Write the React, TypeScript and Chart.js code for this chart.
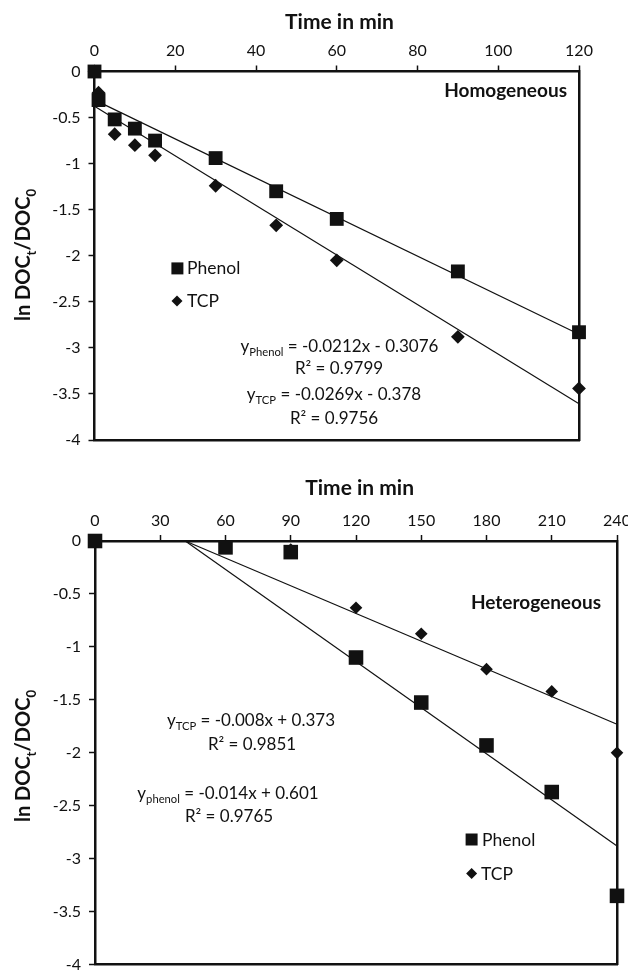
import React, { useEffect, useRef } from 'react';
import { Chart, registerables } from 'chart.js';

Chart.register(...registerables);

const FONT = 'Lato, "Open Sans", "DejaVu Sans", sans-serif';
const INK = '#111111';

// ---------- Homogeneous (top) ----------
const homoTime = [0, 1, 5, 10, 15, 30, 45, 60, 90, 120];
const homoPhenol = [0, -0.31, -0.52, -0.62, -0.75, -0.94, -1.3, -1.6, -2.17, -2.83];
const homoTcp = [0, -0.23, -0.68, -0.8, -0.91, -1.24, -1.67, -2.05, -2.88, -3.44];
const homoFitTime = [0, 120];
const homoPhenolSlope = -0.0212;
const homoPhenolIntercept = -0.3076;
const homoTcpSlope = -0.0269;
const homoTcpIntercept = -0.378;
const homoXTicks = [0, 20, 40, 60, 80, 100, 120];

// ---------- Heterogeneous (bottom) ----------
const heteroTime = [0, 60, 90, 120, 150, 180, 210, 240];
const heteroPhenol = [0, -0.06, -0.105, -1.1, -1.525, -1.93, -2.37, -3.35];
const heteroTcp = [0, -0.05, -0.08, -0.63, -0.875, -1.21, -1.42, -2.0];
const heteroFitTime = [41.5, 240];
const heteroPhenolFit = [0, -2.88];
const heteroTcpFit = [0, -1.73];
const heteroXTicks = [0, 30, 60, 90, 120, 150, 180, 210, 240];

const yTicks = [0, -0.5, -1, -1.5, -2, -2.5, -3, -3.5, -4];

type Part = [string, 'n' | 'sub'];
type TextItem = {
  parts: Part[];
  x: number;
  y: number;
  align: 'left' | 'center' | 'right';
  size: number;
  bold?: boolean;
  rotate?: boolean;
};
type Marker = { kind: 'square' | 'diamond'; x: number; y: number; s: number };

function fontStr(size: number, bold?: boolean) {
  return `${bold ? 'bold ' : ''}${size}px ${FONT}`;
}

function drawRich(ctx: CanvasRenderingContext2D, t: TextItem) {
  const subSize = t.size * 0.66;
  const widths = t.parts.map(([s, k]) => {
    ctx.font = fontStr(k === 'sub' ? subSize : t.size, t.bold);
    return ctx.measureText(s).width;
  });
  const total = widths.reduce((a, b) => a + b, 0);
  ctx.save();
  let x0 = 0;
  if (t.rotate) {
    ctx.translate(t.x, t.y);
    ctx.rotate(-Math.PI / 2);
    x0 = -total / 2;
  } else {
    ctx.translate(0, t.y);
    x0 = t.align === 'left' ? t.x : t.align === 'right' ? t.x - total : t.x - total / 2;
  }
  ctx.fillStyle = INK;
  ctx.textBaseline = 'alphabetic';
  ctx.textAlign = 'left';
  let x = x0;
  t.parts.forEach(([s, k], i) => {
    ctx.font = fontStr(k === 'sub' ? subSize : t.size, t.bold);
    ctx.fillText(s, x, k === 'sub' ? t.size * 0.28 : 0);
    x += widths[i];
  });
  ctx.restore();
}

function drawMarker(ctx: CanvasRenderingContext2D, m: Marker) {
  ctx.save();
  ctx.fillStyle = INK;
  ctx.beginPath();
  if (m.kind === 'square') {
    ctx.rect(m.x - m.s / 2, m.y - m.s / 2, m.s, m.s);
  } else {
    ctx.moveTo(m.x, m.y - m.s);
    ctx.lineTo(m.x + m.s, m.y);
    ctx.lineTo(m.x, m.y + m.s);
    ctx.lineTo(m.x - m.s, m.y);
    ctx.closePath();
  }
  ctx.fill();
  ctx.restore();
}

type Spec = {
  height: number;
  area: { left: number; top: number; right: number; bottom: number };
  xMax: number;
  xTicks: number[];
  time: number[];
  phenol: number[];
  tcp: number[];
  fitTime: number[];
  phenolFit: number[];
  tcpFit: number[];
  squareR: number;
  diamondR: number;
  texts: TextItem[];
  markers: Marker[];
};

function buildConfig(spec: Spec): any {
  const W = 628;
  const pts = (xs: number[], ys: number[]) => xs.map((x, i) => ({ x, y: ys[i] }));
  const annot = {
    id: 'annot',
    afterDraw(chart: any) {
      const ctx = chart.ctx as CanvasRenderingContext2D;
      spec.texts.forEach((t) => drawRich(ctx, t));
      spec.markers.forEach((m) => drawMarker(ctx, m));
    },
  };
  const tickFont = { family: FONT, size: 16 };
  return {
    type: 'scatter',
    data: {
      datasets: [
        {
          label: 'Phenol',
          data: pts(spec.time, spec.phenol),
          pointStyle: 'rect',
          pointRadius: spec.squareR,
          pointBorderWidth: 0,
          backgroundColor: INK,
          borderColor: INK,
          showLine: false,
          clip: false,
        },
        {
          label: 'TCP',
          data: pts(spec.time, spec.tcp),
          pointStyle: 'rectRot',
          pointRadius: spec.diamondR,
          pointBorderWidth: 0,
          backgroundColor: INK,
          borderColor: INK,
          showLine: false,
          clip: false,
        },
        {
          label: 'Phenol fit',
          data: pts(spec.fitTime, spec.phenolFit),
          showLine: true,
          pointRadius: 0,
          borderWidth: 1.2,
          borderColor: INK,
          clip: false,
        },
        {
          label: 'TCP fit',
          data: pts(spec.fitTime, spec.tcpFit),
          showLine: true,
          pointRadius: 0,
          borderWidth: 1.2,
          borderColor: INK,
          clip: false,
        },
      ],
    },
    options: {
      responsive: false,
      animation: false,
      events: [],
      layout: { padding: 0 },
      plugins: { legend: { display: false }, tooltip: { enabled: false }, title: { display: false } },
      scales: {
        x: {
          type: 'linear',
          position: 'top',
          min: 0,
          max: spec.xMax,
          afterBuildTicks: (s: any) => {
            s.ticks = spec.xTicks.map((v) => ({ value: v }));
          },
          ticks: { color: INK, font: tickFont, padding: 5, maxRotation: 0, autoSkip: false },
          grid: { drawOnChartArea: false, drawTicks: true, tickLength: 6, tickWidth: 1.5, tickColor: INK },
          border: { display: true, width: 2.5, color: INK },
          afterFit: (s: any) => {
            s.height = spec.area.top;
            s.paddingLeft = 0;
            s.paddingRight = 0;
          },
        },
        x2: {
          type: 'linear',
          position: 'bottom',
          min: 0,
          max: spec.xMax,
          ticks: { display: false },
          grid: { drawOnChartArea: false, drawTicks: false },
          border: { display: true, width: 2.5, color: INK },
          afterFit: (s: any) => {
            s.height = spec.height - spec.area.bottom;
            s.paddingLeft = 0;
            s.paddingRight = 0;
          },
        },
        y: {
          type: 'linear',
          position: 'left',
          min: -4,
          max: 0,
          afterBuildTicks: (s: any) => {
            s.ticks = yTicks.map((v) => ({ value: v }));
          },
          ticks: { color: INK, font: tickFont, padding: 8, callback: (v: any) => String(v) },
          grid: { drawOnChartArea: false, drawTicks: true, tickLength: 6, tickWidth: 1.5, tickColor: INK },
          border: { display: true, width: 2.5, color: INK },
          afterFit: (s: any) => {
            s.width = spec.area.left;
            s.paddingTop = 0;
            s.paddingBottom = 0;
          },
        },
        y2: {
          type: 'linear',
          position: 'right',
          min: -4,
          max: 0,
          ticks: { display: false },
          grid: { drawOnChartArea: false, drawTicks: false },
          border: { display: true, width: 2.5, color: INK },
          afterFit: (s: any) => {
            s.width = W - spec.area.right;
            s.paddingTop = 0;
            s.paddingBottom = 0;
          },
        },
      },
    },
    plugins: [annot],
  };
}

const yTitle: Part[] = [
  ['ln DOC', 'n'],
  ['t', 'sub'],
  ['/DOC', 'n'],
  ['0', 'sub'],
];

const topSpec: Spec = {
  height: 460,
  area: { left: 94.5, top: 71.5, right: 579, bottom: 440 },
  xMax: 120,
  xTicks: homoXTicks,
  time: homoTime,
  phenol: homoPhenol,
  tcp: homoTcp,
  fitTime: homoFitTime,
  phenolFit: homoFitTime.map((t) => homoPhenolSlope * t + homoPhenolIntercept),
  tcpFit: homoFitTime.map((t) => homoTcpSlope * t + homoTcpIntercept),
  squareR: 9.8,
  diamondR: 6.9,
  texts: [
    { parts: [['Time in min', 'n']], x: 339.5, y: 29, align: 'center', size: 21, bold: true },
    { parts: yTitle, x: 30, y: 255, align: 'center', size: 20, bold: true, rotate: true },
    { parts: [['Homogeneous', 'n']], x: 567, y: 97, align: 'right', size: 19, bold: true },
    { parts: [['Phenol', 'n']], x: 187, y: 274, align: 'left', size: 17.5 },
    { parts: [['TCP', 'n']], x: 187, y: 307, align: 'left', size: 17.5 },
    { parts: [['y', 'n'], ['Phenol', 'sub'], [' = -0.0212x - 0.3076', 'n']], x: 339.5, y: 351.5, align: 'center', size: 17 },
    { parts: [['R² = 0.9799', 'n']], x: 339, y: 373.5, align: 'center', size: 17 },
    { parts: [['y', 'n'], ['TCP', 'sub'], [' = -0.0269x - 0.378', 'n']], x: 334, y: 399.5, align: 'center', size: 17 },
    { parts: [['R² = 0.9756', 'n']], x: 334, y: 423.5, align: 'center', size: 17 },
  ],
  markers: [
    { kind: 'square', x: 177.4, y: 268.4, s: 12 },
    { kind: 'diamond', x: 177, y: 301, s: 5.5 },
  ],
};

const bottomSpec: Spec = {
  height: 515,
  area: { left: 95, top: 81, right: 617, bottom: 511 },
  xMax: 240,
  xTicks: heteroXTicks,
  time: heteroTime,
  phenol: heteroPhenol,
  tcp: heteroTcp,
  fitTime: heteroFitTime,
  phenolFit: heteroPhenolFit,
  tcpFit: heteroTcpFit,
  squareR: 10.3,
  diamondR: 6.3,
  texts: [
    { parts: [['Time in min', 'n']], x: 359.6, y: 35, align: 'center', size: 21, bold: true },
    { parts: yTitle, x: 30, y: 296, align: 'center', size: 20, bold: true, rotate: true },
    { parts: [['Heterogeneous', 'n']], x: 601, y: 149, align: 'right', size: 19, bold: true },
    { parts: [['y', 'n'], ['TCP', 'sub'], [' = -0.008x + 0.373', 'n']], x: 251, y: 265.5, align: 'center', size: 17 },
    { parts: [['R² = 0.9851', 'n']], x: 252, y: 289.5, align: 'center', size: 17 },
    { parts: [['y', 'n'], ['phenol', 'sub'], [' = -0.014x + 0.601', 'n']], x: 228, y: 338.5, align: 'center', size: 17 },
    { parts: [['R² = 0.9765', 'n']], x: 229, y: 362, align: 'center', size: 17 },
    { parts: [['Phenol', 'n']], x: 482, y: 385.5, align: 'left', size: 17.5 },
    { parts: [['TCP', 'n']], x: 481, y: 419.5, align: 'left', size: 17.5 },
  ],
  markers: [
    { kind: 'square', x: 471.6, y: 379.5, s: 12 },
    { kind: 'diamond', x: 471.6, y: 413.5, s: 5.5 },
  ],
};

function Plot({ spec, top }: { spec: Spec; top: number }) {
  const ref = useRef<HTMLCanvasElement | null>(null);
  useEffect(() => {
    if (!ref.current) return;
    const chart = new Chart(ref.current, buildConfig(spec));
    return () => chart.destroy();
  }, [spec]);
  return (
    <canvas
      ref={ref}
      width={628}
      height={spec.height}
      style={{ position: 'absolute', left: 0, top, width: 628, height: spec.height, display: 'block' }}
    />
  );
}

export default function App() {
  return (
    <div style={{ position: 'absolute', left: 0, top: 0, width: 628, height: 975, background: '#ffffff' }}>
      <Plot spec={topSpec} top={0} />
      <Plot spec={bottomSpec} top={460} />
    </div>
  );
}
